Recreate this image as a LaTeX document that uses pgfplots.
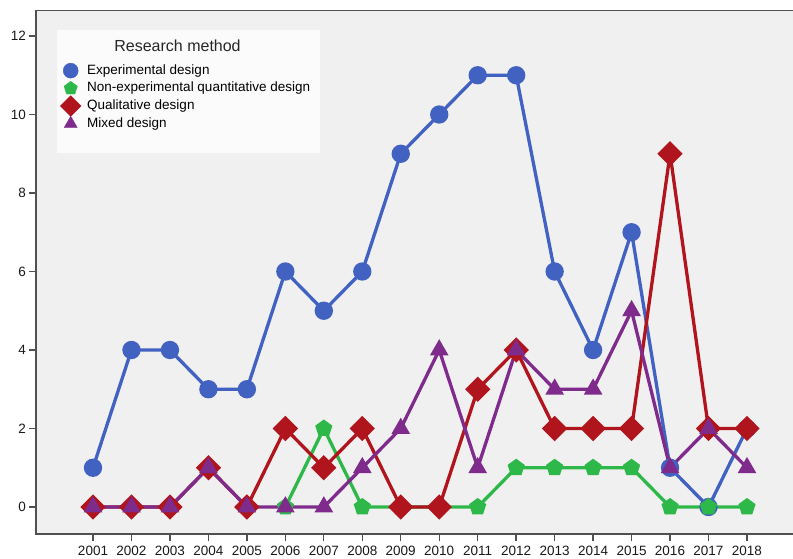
\documentclass[border=0pt]{standalone}
\usepackage{fontspec}
\setmainfont{Liberation Sans}
\usepackage{pgfplots}
\pgfplotsset{compat=1.18}
\usetikzlibrary{calc}
\definecolor{cblue}{HTML}{4262C2}
\definecolor{cgreen}{HTML}{2EB84A}
\definecolor{cred}{HTML}{B0141C}
\definecolor{cpurple}{HTML}{7E2B8C}
\definecolor{bggray}{HTML}{F0F0F0}
\definecolor{axgray}{HTML}{505050}
\definecolor{legbg}{HTML}{FBFBFB}
\begin{document}
\fontsize{13bp}{15bp}\selectfont
\begin{tikzpicture}
\begin{axis}[name=ax, set layers, scale only axis,
  width=770bp, height=523.5bp,
  xmin=1999.518, xmax=2019.534, ymin=-0.688, ymax=12.65,
  xtick={2001,...,2018}, ytick={0,2,...,12},
  /pgf/number format/1000 sep={},
  /pgf/number format/assume math mode=true,
  tick align=outside, xtick pos=bottom, ytick pos=left,
  major tick length=7bp,
  tick style={draw=axgray, line width=1.3bp},
  axis line style={draw=axgray, line width=1.5bp},
  axis background/.style={fill=bggray},
  ticklabel style={font=\fontsize{13.5bp}{15bp}\selectfont, text=black!90},
  xticklabel style={yshift=-1bp},
  yticklabel style={xshift=1.5bp},
  legend cell align=left,
  legend image code/.code={\path[draw=none,fill=none] (0bp,-4bp) rectangle (23bp,4bp);
    \draw[overlay,mark repeat=2,mark phase=2,#1] plot coordinates {(0bp,0bp)(8.5bp,0bp)(17bp,0bp)};},
  legend style={at={(rel axis cs:0.0338,0.9017)}, anchor=north west,
    draw=none, fill=none, inner sep=0pt, row sep=0.7bp,
    font=\fontsize{13.5bp}{15bp}\selectfont,
    nodes={inner sep=2bp, text height=10bp, text depth=3bp}},
]
\begin{pgfonlayer}{pre main}
\fill[legbg] (rel axis cs:0.0273,0.7278) rectangle (rel axis cs:0.3688,0.9627);
\end{pgfonlayer}
\node[font=\fontsize{16bp}{18bp}\selectfont, text=black!85] at (rel axis cs:0.1838,0.932) {Research method};

\addplot[cblue, line width=3.3bp, mark=*, mark size=7.5bp, forget plot] coordinates {
(2001,1)(2002,4)(2003,4)(2004,3)(2005,3)(2006,6)(2007,5)(2008,6)(2009,9)
(2010,10)(2011,11)(2012,11)(2013,6)(2014,4)(2015,7)(2016,1)(2017,0)(2018,2)};
\addplot[cgreen, line width=3.3bp, mark=pentagon*, mark size=7bp, forget plot] coordinates {
(2006,0)(2007,2)(2008,0)(2009,0)(2010,0)(2011,0)(2012,1)(2013,1)(2014,1)
(2015,1)(2016,0)(2017,0)(2018,0)};
\addplot[cred, line width=3.3bp, mark=square*, mark size=7.3bp, mark options={rotate=45}, forget plot] coordinates {
(2001,0)(2002,0)(2003,0)(2004,1)(2005,0)(2006,2)(2007,1)(2008,2)(2009,0)
(2010,0)(2011,3)(2012,4)(2013,2)(2014,2)(2015,2)(2016,9)(2017,2)(2018,2)};
\addplot[cpurple, line width=3.3bp, mark=triangle*, mark size=7.5bp, forget plot] coordinates {
(2001,0)(2002,0)(2003,0)(2004,1)(2005,0)(2006,0)(2007,0)(2008,1)(2009,2)
(2010,4)(2011,1)(2012,4)(2013,3)(2014,3)(2015,5)(2016,1)(2017,2)(2018,1)};

\addlegendimage{only marks, mark=*, cblue, mark size=7.5bp}
\addlegendentry{Experimental design}
\addlegendimage{only marks, mark=pentagon*, cgreen, mark size=7bp}
\addlegendentry{Non-experimental quantitative design}
\addlegendimage{only marks, mark=square*, cred, mark size=7.3bp, mark options={rotate=45}}
\addlegendentry{Qualitative design}
\addlegendimage{only marks, mark=triangle*, cpurple, mark size=7.5bp}
\addlegendentry{Mixed design}
\end{axis}
\pgfresetboundingbox
\path[use as bounding box] ($(ax.south west)+(-36bp,-25bp)$) rectangle ($(ax.north west)+(757bp,10.5bp)$);
\end{tikzpicture}
\end{document}
